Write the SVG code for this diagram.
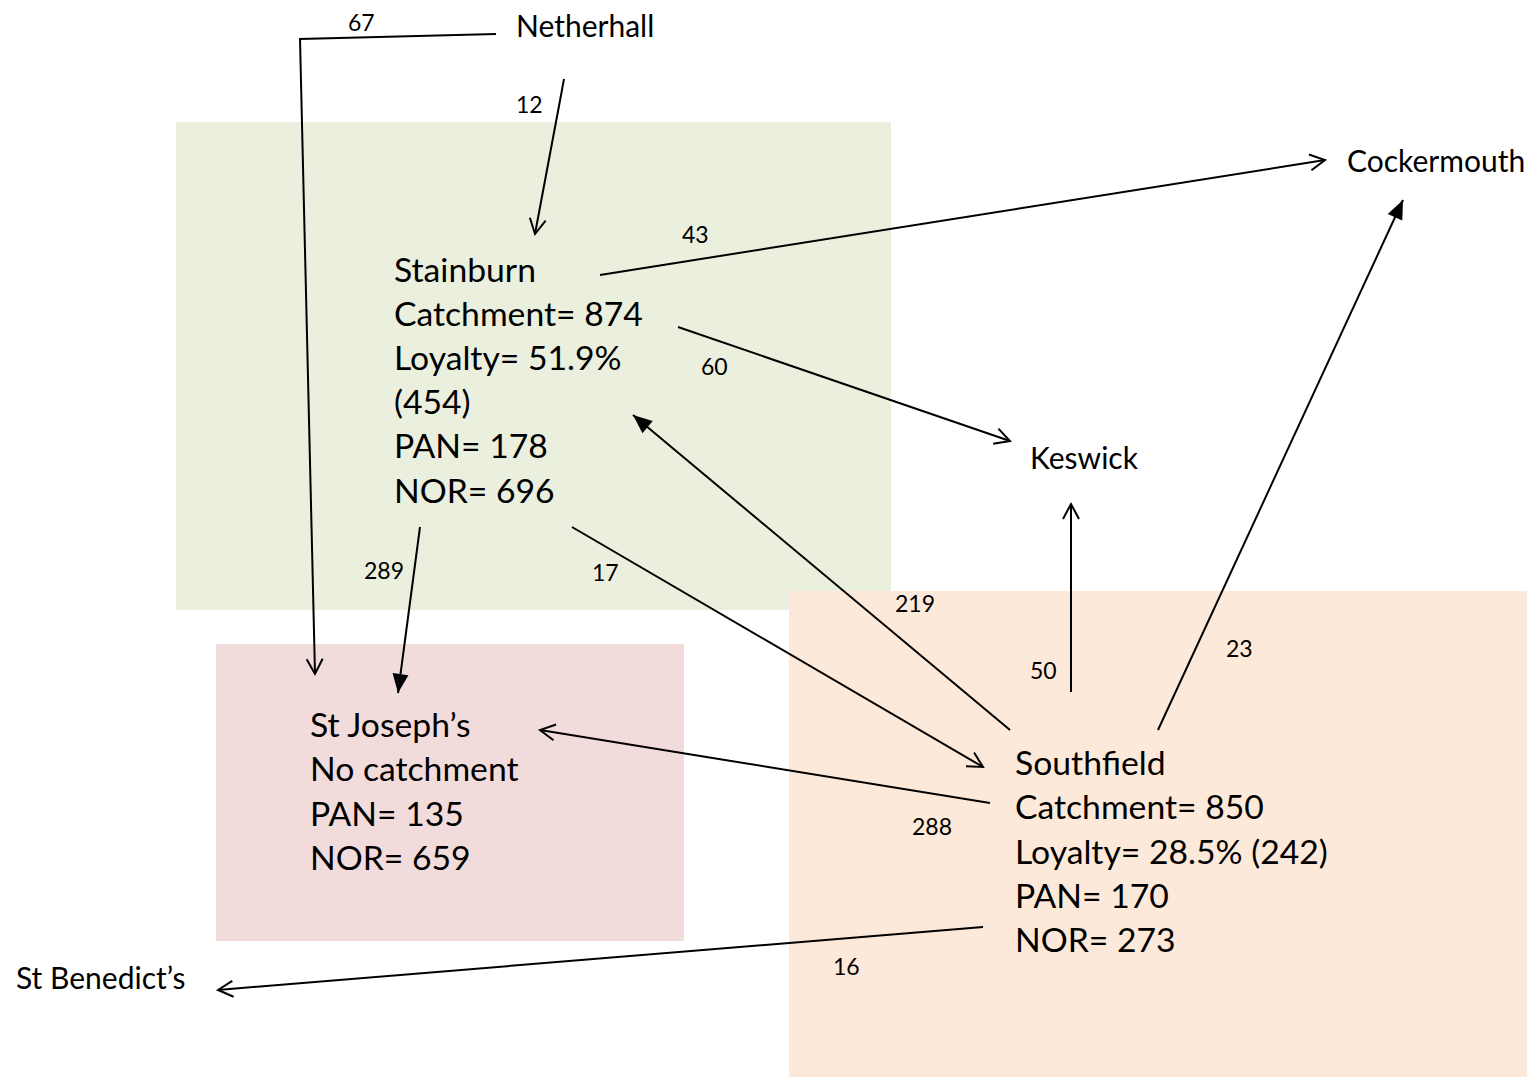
<svg xmlns="http://www.w3.org/2000/svg" width="1530" height="1077" viewBox="0 0 1530 1077">
<style>
text{font-family:Lato,"Open Sans","Liberation Sans",sans-serif;fill:#000}
.big{font-size:33.7px}
.mid{font-size:30px}
.num{font-size:23px}
.ln{stroke:#000;stroke-width:2;fill:none}
.op{marker-end:url(#open)}
.fl{marker-end:url(#fill)}
</style>
<defs>
<marker id="open" markerUnits="userSpaceOnUse" viewBox="-16 -10 18 20" markerWidth="18" markerHeight="20" refX="0" refY="0" orient="auto" overflow="visible">
<path d="M-15,-8 L0,0 L-15,8" fill="none" stroke="#000" stroke-width="2"/>
</marker>
<marker id="fill" markerUnits="userSpaceOnUse" viewBox="-20 -10 22 20" markerWidth="22" markerHeight="20" refX="0" refY="0" orient="auto" overflow="visible">
<path d="M-19,-8 L0,0 L-19,8 Z" fill="#000"/>
</marker>
</defs>
<rect x="0" y="0" width="1530" height="1077" fill="#fff"/>
<g id="stainburn">
<rect x="176" y="122" width="715" height="488" fill="#EBEFDE"/>
<text class="big" x="394" y="282">Stainburn</text>
<text class="big" x="394" y="326">Catchment= 874</text>
<text class="big" x="394" y="370">Loyalty= 51.9%</text>
<text class="big" x="394" y="414">(454)</text>
<text class="big" x="394" y="458">PAN= 178</text>
<text class="big" x="394" y="503">NOR= 696</text>
</g>
<g id="southfield">
<rect x="789" y="591" width="738" height="486" fill="#FDE9D9"/>
<text class="big" x="1015" y="775">Southfield</text>
<text class="big" x="1015" y="819">Catchment= 850</text>
<text class="big" x="1015" y="864">Loyalty= 28.5% (242)</text>
<text class="big" x="1015" y="908">PAN= 170</text>
<text class="big" x="1015" y="952">NOR= 273</text>
</g>
<g id="stjosephs">
<rect x="216" y="644" width="468" height="297" fill="#F2DCDB"/>
<text class="big" x="310" y="737">St Joseph’s</text>
<text class="big" x="310" y="781">No catchment</text>
<text class="big" x="310" y="826">PAN= 135</text>
<text class="big" x="310" y="870">NOR= 659</text>
</g>
<g id="netherhall"><text class="mid" x="516" y="37">Netherhall</text></g>
<g id="cockermouth"><text class="mid" x="1347" y="172">Cockermouth</text></g>
<g id="keswick"><text class="mid" x="1030" y="469">Keswick</text></g>
<g id="stbenedicts"><text class="mid" x="16" y="989">St Benedict’s</text></g>
<g id="connectors">
<polyline class="ln op" points="496,34 300,39 315,674"/>
<line class="ln op" x1="564" y1="79" x2="535" y2="234"/>
<line class="ln op" x1="600" y1="275" x2="1325" y2="160"/>
<line class="ln op" x1="678" y1="327" x2="1010" y2="441"/>
<line class="ln fl" x1="1010" y1="730" x2="633" y2="415"/>
<line class="ln op" x1="572" y1="527" x2="983" y2="767"/>
<line class="ln fl" x1="420" y1="527" x2="398" y2="693"/>
<line class="ln op" x1="1071" y1="692" x2="1071" y2="504"/>
<line class="ln fl" x1="1158" y1="730" x2="1403" y2="200"/>
<line class="ln op" x1="990" y1="803" x2="540" y2="730"/>
<line class="ln op" x1="983" y1="927" x2="218" y2="990"/>
<text class="num" x="348" y="31">67</text>
<text class="num" x="516" y="113">12</text>
<text class="num" x="682" y="243">43</text>
<text class="num" x="701" y="375">60</text>
<text class="num" x="364" y="579">289</text>
<text class="num" x="592" y="581">17</text>
<text class="num" x="895" y="612">219</text>
<text class="num" x="1030" y="679">50</text>
<text class="num" x="1226" y="657">23</text>
<text class="num" x="912" y="835">288</text>
<text class="num" x="833" y="975">16</text>
</g>
</svg>
